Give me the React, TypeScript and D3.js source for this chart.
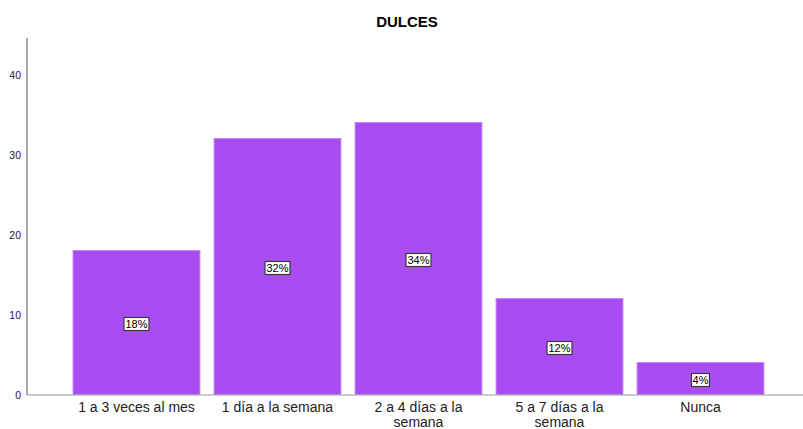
import React from "react";
import * as d3 from "d3";

const categories = ["1 a 3 veces al mes", "1 día a la semana", "2 a 4 días a la semana", "5 a 7 días a la semana", "Nunca"];
const categoryLines = [["1 a 3 veces al mes"], ["1 día a la semana"], ["2 a 4 días a la", "semana"], ["5 a 7 días a la", "semana"], ["Nunca"]];
const values = [18, 32, 34, 12, 4];
const percentLabels = ["18%", "32%", "34%", "12%", "4%"];
const yTicks = [0, 10, 20, 30, 40];
const title = "DULCES";

export default function App() {
  const W = 803, H = 429;
  const x = d3.scaleBand<string>().domain(categories).range([66, 771]).paddingInner(0.1).paddingOuter(0.05);
  const y = d3.scaleLinear().domain([0, 40]).range([394.5, 74.5]);
  const font = "Liberation Sans, Arial, sans-serif";
  return (
    <svg width={W} height={H} style={{ position: "absolute", left: 0, top: 0, background: "#fff" }} fontFamily={font}>
      <text x={407} y={27} textAnchor="middle" fontWeight="bold" fontSize={15} fill="#000">{title}</text>
      {values.map((v, i) => {
        const c = categories[i];
        const bx = x(c)!;
        const bw = x.bandwidth();
        const top = y(v);
        const cy = (top + y(0)) / 2 + 1.5;
        const lbl = percentLabels[i];
        const tw = lbl.length * 7 + 4;
        return (
          <g key={c}>
            <rect x={bx} y={top} width={bw} height={y(0) - top} fill="#a94cf1" stroke="#c58af5" strokeWidth={1} />
            <rect x={bx + bw / 2 - tw / 2} y={cy - 6.5} width={tw} height={13} fill="#fff" stroke="#3a3a3a" strokeWidth={1.2} />
            <text x={bx + bw / 2} y={cy + 4} textAnchor="middle" fontSize={11} fill="#000">{lbl}</text>
          </g>
        );
      })}
      <line x1={27} x2={27} y1={38} y2={395} stroke="#555" strokeWidth={1} />
      <line x1={27} x2={803} y1={395} y2={395} stroke="#999" strokeWidth={1.2} />
      {yTicks.map(t => (
        <text key={t} x={21} y={y(t) + 4} textAnchor="end" fontSize={10.5} fill="#222">{t}</text>
      ))}
      {categoryLines.map((lines, i) =>
        lines.map((l, j) => (
          <text key={i + "-" + j} x={x(categories[i])! + x.bandwidth() / 2} y={412 + j * 15} textAnchor="middle" fontSize={14} fill="#222">{l}</text>
        ))
      )}
    </svg>
  );
}
